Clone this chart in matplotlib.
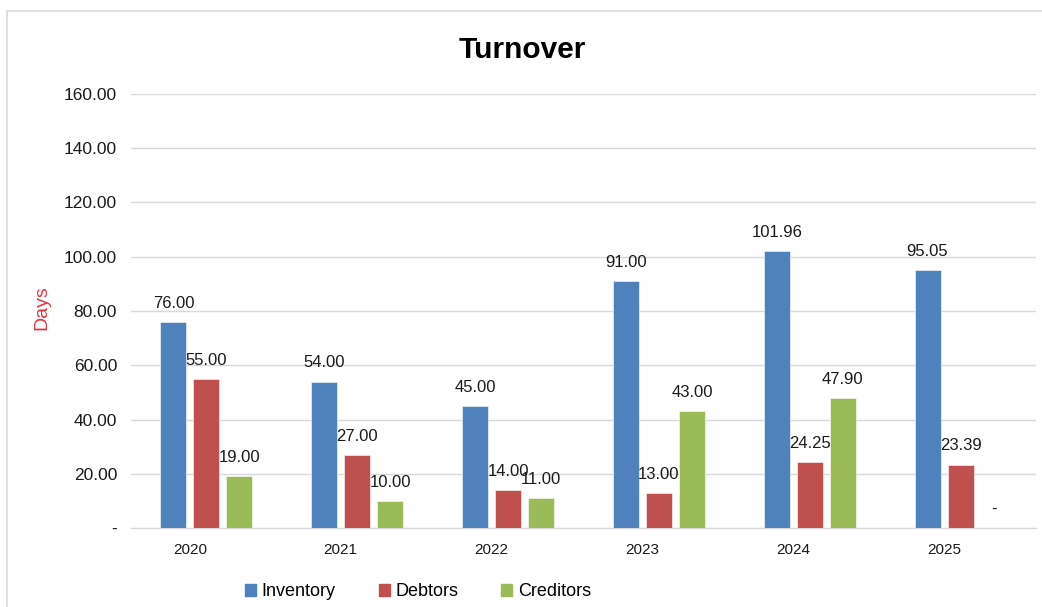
import numpy as np
import matplotlib.pyplot as plt
from matplotlib.patches import Patch, Rectangle

plt.rcParams['font.family'] = ['Liberation Sans', 'DejaVu Sans']

years = ['2020', '2021', '2022', '2023', '2024', '2025']
inventory = [76.00, 54.00, 45.00, 91.00, 101.96, 95.05]
debtors = [55.00, 27.00, 14.00, 13.00, 24.25, 23.39]
creditors = [19.00, 10.00, 11.00, 43.00, 47.90, 0.00]

series = [('Inventory', inventory, '#4F81BD'),
          ('Debtors', debtors, '#C0504D'),
          ('Creditors', creditors, '#9BBB59')]

fig = plt.figure(figsize=(10.42, 6.07), dpi=100)
ax = fig.add_axes([131 / 1042, 1 - 528 / 607, 905 / 1042, 434 / 607])

# outer chart frame (cut off on the right and bottom in the reference)
fig.patches.append(Rectangle((7 / 1042, -0.05), 1.1, 1 - 11 / 607 + 0.05,
                             transform=fig.transFigure, fill=False,
                             edgecolor='#D9D9D9', lw=1.2, zorder=0))

x = np.arange(len(years)) + 0.5
width = 0.172
step = 0.219

for i, (name, vals, col) in enumerate(series):
    pos = x + (i - 1) * step
    ax.bar(pos, vals, width, color=col, edgecolor='white', lw=0.4,
           label=name, zorder=3)
    for xp, v in zip(pos, vals):
        txt = f'{v:.2f}' if v else '-'
        ax.annotate(txt, (xp, v), xytext=(0, 8), textcoords='offset points',
                    ha='center', va='bottom', fontsize=12, color='#1A1A1A')

ax.set_xlim(0, len(years))
ax.set_ylim(0, 160)
ax.set_yticks(np.arange(0, 161, 20))
ax.set_yticklabels(['-'] + [f'{t:.2f}' for t in np.arange(20, 161, 20)])
ax.set_xticks(x - 0.11)
ax.set_xticklabels(years)
ax.tick_params(axis='both', length=0, colors='#1A1A1A')
ax.tick_params(axis='y', pad=10, labelsize=12.5)
ax.tick_params(axis='x', pad=11, labelsize=11)
ax.yaxis.grid(True, color='#D9D9D9', lw=1)
ax.set_axisbelow(True)
for s in ['top', 'right', 'left']:
    ax.spines[s].set_visible(False)
ax.spines['bottom'].set_color('#D9D9D9')

fig.text(42 / 1042, 1 - 308 / 607, 'Days', rotation=90, color='#E8333A',
         fontsize=14, ha='center', va='center')
fig.text(522 / 1042, 1 - 50 / 607, 'Turnover', fontsize=21.5,
         fontweight='bold', ha='center', va='center')

handles = [Patch(color=c, label=n) for n, _, c in series]
fig.legend(handles=handles, loc='center', ncol=3,
           bbox_to_anchor=(418 / 1042, 1 - 592 / 607), frameon=False,
           fontsize=13, handlelength=0.6, handleheight=0.6,
           handletextpad=0.3, columnspacing=2.4)

fig.savefig('out.png', dpi=100)
